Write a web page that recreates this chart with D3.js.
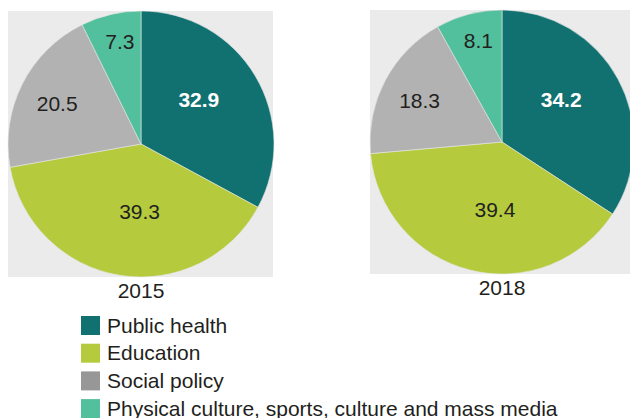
<!DOCTYPE html>
<html>
<head>
<meta charset="utf-8">
<script src="https://cdn.jsdelivr.net/npm/d3@7"></script>
<style>
  body { margin: 0; background: #fff; }
  svg text { font-family: "Liberation Sans", Arial, sans-serif; fill: #231f20; }
</style>
</head>
<body>
<svg id="chart" width="630" height="418"></svg>
<script>
// data
const categories = ['Public health', 'Education', 'Social policy', 'Physical culture, sports, culture and mass media'];
const years = ['2015', '2018'];
const values2015 = [32.9, 39.3, 20.5, 7.3];
const values2018 = [34.2, 39.4, 18.3, 8.1];

// styles
const sliceColors = ['#107170', '#b5cb3d', '#b2b2b2', '#52c09c'];
const legendColors = ['#107170', '#b5cb3d', '#979797', '#52c09c'];
const labelColors = ['#fff', '#231f20', '#231f20', '#231f20'];
const labelWeight = ['bold', 'normal', 'normal', 'normal'];
const labelRadius = [0.55, 0.51, 0.70, 0.79];   // fraction of radius
const labelShift = [-7, -8, -1, 1.5];            // degrees

let svg = d3.select('#chart');

let pieChart = (values, year, cx, cy, r, bgWidth) => {
    let g = svg.append('g');
    // grey panel behind the pie
    g.append('rect').attr('x', cx - r).attr('y', cy - r)
        .attr('width', bgWidth).attr('height', 2 * r).attr('fill', '#ebebeb');

    let pie = d3.pie().sort(null).value(d => d);
    let arc = d3.arc().innerRadius(0).outerRadius(r);
    let arcs = pie(values);

    let pg = g.append('g').attr('transform', `translate(${cx},${cy})`);
    pg.selectAll('path').data(arcs).join('path')
        .attr('d', arc)
        .attr('fill', (d, i) => sliceColors[i])
        .attr('stroke', '#e6e6e6').attr('stroke-width', 0.6);

    pg.selectAll('text').data(arcs).join('text')
        .attr('transform', (d, i) => {
            let a = (d.startAngle + d.endAngle) / 2 + labelShift[i] * Math.PI / 180;
            let rr = r * labelRadius[i];
            return `translate(${rr * Math.sin(a)},${-rr * Math.cos(a)})`;
        })
        .attr('text-anchor', 'middle').attr('dy', '0.36em')
        .style('font-size', '21px')
        .style('font-weight', (d, i) => labelWeight[i])
        .style('fill', (d, i) => labelColors[i])
        .text(d => d.data.toFixed(1));

    g.append('text').attr('x', cx).attr('y', cy + r + 21)
        .attr('text-anchor', 'middle').style('font-size', '21px').text(year);
};

pieChart(values2015, years[0], 141, 144, 133, 265);
pieChart(values2018, years[1], 502, 142, 132, 270);

// legend
let legend = svg.append('g').attr('transform', 'translate(81,316)');
let rows = legend.selectAll('g').data(categories).join('g')
    .attr('transform', (d, i) => `translate(0,${i * 27.7})`);
rows.append('rect').attr('width', 19).attr('height', 19)
    .attr('fill', (d, i) => legendColors[i]);
rows.append('text').attr('x', 26).attr('y', 16.5)
    .style('font-size', '21px').text(d => d);
</script>
</body>
</html>
